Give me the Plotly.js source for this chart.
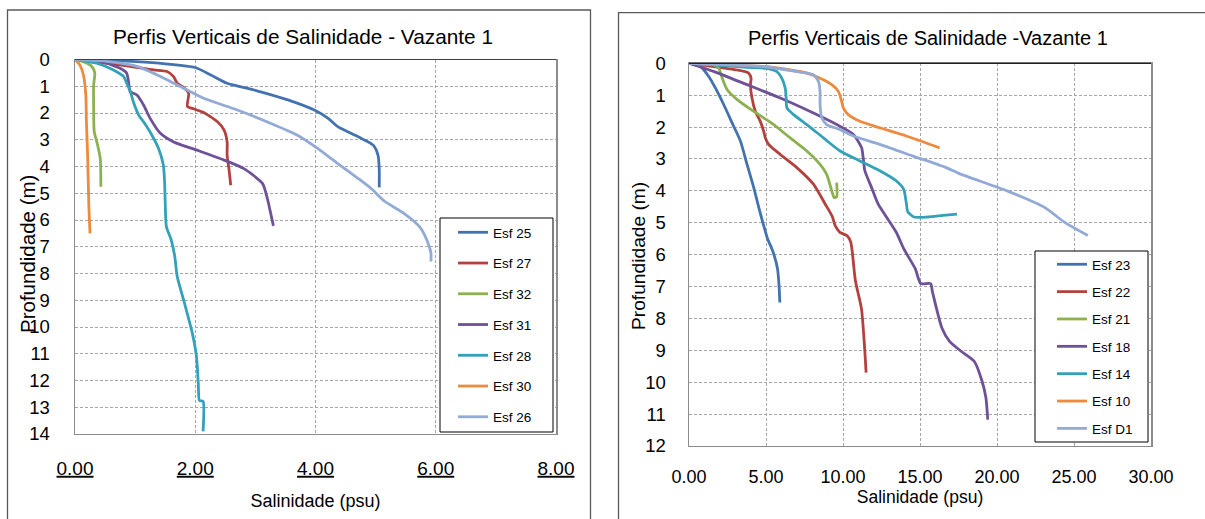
<!DOCTYPE html>
<html>
<head>
<meta charset="utf-8">
<script src="https://cdn.plot.ly/plotly-3.0.1.min.js"></script>
<style>
  html, body { margin: 0; padding: 0; background: #ffffff; }
  #chart { width: 1205px; height: 519px; }
</style>
</head>
<body>
<div id="chart"></div>
<script>
// ---------- Left chart: series (salinity psu, depth m) ----------
const leftNames = ["Esf 25", "Esf 27", "Esf 32", "Esf 31", "Esf 28", "Esf 30", "Esf 26"];

const esf25_s = [0, 0.5, 1.03, 1.5, 2.0, 2.26, 2.53, 2.98, 3.54, 3.98, 4.21, 4.37, 4.71, 4.96, 5.04, 5.06, 5.06];
const esf25_d = [0, 0.03, 0.08, 0.16, 0.3, 0.58, 0.89, 1.14, 1.51, 1.89, 2.2, 2.51, 2.89, 3.2, 3.58, 4.08, 4.78];

const esf27_s = [0, 0.75, 1.31, 1.53, 1.64, 1.70, 1.81, 1.89, 1.87, 1.98, 2.14, 2.37, 2.48, 2.53, 2.53, 2.56, 2.59];
const esf27_d = [0, 0.2, 0.39, 0.45, 0.64, 0.89, 1.05, 1.26, 1.76, 1.85, 1.98, 2.33, 2.64, 3.08, 3.58, 4.08, 4.7];

const esf32_s = [0, 0.14, 0.28, 0.33, 0.31, 0.31, 0.32, 0.37, 0.42, 0.43];
const esf32_d = [0, 0.08, 0.26, 0.51, 0.95, 1.7, 2.7, 3.14, 3.7, 4.76];

const esf31_s = [0, 0.47, 0.75, 0.86, 0.89, 0.92, 1.03, 1.14, 1.25, 1.42, 1.64, 2.03, 2.48, 2.81, 3.12, 3.2, 3.25, 3.3];
const esf31_d = [0, 0.1, 0.33, 0.51, 0.83, 1.2, 1.33, 1.7, 2.2, 2.76, 3.08, 3.39, 3.76, 4.08, 4.64, 5.2, 5.7, 6.22];

const esf28_s = [0, 0.36, 0.64, 0.81, 0.86, 0.92, 0.97, 1.06, 1.14, 1.28, 1.39, 1.47, 1.49, 1.50, 1.52, 1.60, 1.66, 1.70, 1.82, 1.95, 2.02, 2.05, 2.07, 2.13, 2.13];
const esf28_d = [0, 0.14, 0.39, 0.64, 0.89, 1.2, 1.58, 2.08, 2.33, 2.83, 3.33, 3.95, 4.58, 5.3, 6.25, 6.74, 7.37, 8.11, 9.1, 10.22, 11.1, 12.09, 12.75, 12.78, 13.9];

const esf30_s = [0, 0.08, 0.14, 0.18, 0.19, 0.21, 0.23, 0.25];
const esf30_d = [0, 0.2, 0.58, 1.33, 2.33, 3.58, 5.45, 6.5];

const esf26_s = [0, 0.47, 1.03, 1.48, 1.75, 2.14, 2.70, 3.26, 3.70, 4.04, 4.37, 4.71, 4.93, 5.15, 5.47, 5.73, 5.85, 5.92, 5.92];
const esf26_d = [0, 0.05, 0.26, 0.7, 1.01, 1.45, 1.89, 2.39, 2.83, 3.33, 3.89, 4.45, 4.83, 5.3, 5.75, 6.25, 6.74, 7.24, 7.55];

// ---------- Right chart ----------
const rightNames = ["Esf 23", "Esf 22", "Esf 21", "Esf 18", "Esf 14", "Esf 10", "Esf D1"];

const esf23_s = [0, 0.75, 1.29, 1.72, 2.26, 2.80, 3.34, 3.77, 4.2, 4.53, 4.8, 5.1, 5.45, 5.75, 5.85, 5.9];
const esf23_d = [0, 0.1, 0.42, 0.78, 1.3, 1.87, 2.44, 3.17, 3.89, 4.52, 5.0, 5.5, 5.9, 6.45, 7.0, 7.5];

const esf22_s = [0, 1.62, 3.13, 3.88, 4.03, 3.99, 4.09, 4.31, 4.63, 4.85, 4.96, 5.17, 5.93, 7.0, 8.08, 8.84, 9.3, 9.5, 9.8, 10.3, 10.5, 10.6, 10.8, 11.2, 11.4, 11.5];
const esf22_d = [0, 0.1, 0.21, 0.31, 0.47, 0.67, 1.09, 1.51, 1.82, 2.13, 2.34, 2.54, 2.86, 3.27, 3.79, 4.41, 4.8, 5.1, 5.3, 5.42, 5.6, 5.9, 6.8, 7.7, 8.9, 9.7];

const esf21_s = [0, 1.62, 1.94, 2.16, 2.48, 3.13, 4.2, 5.5, 6.57, 7.65, 8.51, 8.94, 9.27, 9.42, 9.59, 9.59];
const esf21_d = [0, 0.05, 0.16, 0.47, 0.83, 1.14, 1.51, 1.92, 2.34, 2.75, 3.17, 3.48, 4.0, 4.21, 4.18, 3.74];

const esf18_s = [0, 1.62, 3.77, 5.93, 8.08, 9.59, 10.67, 11.21, 11.31, 11.42, 11.85, 12.28, 13.45, 13.95, 14.69, 15.05, 15.69, 15.81, 16.43, 16.92, 17.67, 18.53, 19.03, 19.28, 19.4];
const esf18_d = [0, 0.26, 0.67, 1.09, 1.56, 1.92, 2.23, 2.65, 2.96, 3.37, 3.89, 4.41, 5.29, 5.82, 6.44, 6.91, 6.91, 7.17, 8.31, 8.72, 9.03, 9.35, 9.97, 10.49, 11.17];

const esf14_s = [0, 1.62, 3.77, 5.06, 5.71, 6.03, 6.25, 6.31, 6.36, 6.79, 7.65, 8.73, 9.81, 11.1, 12.39, 13.47, 13.94, 14.12, 14.2, 14.6, 15.5, 16.5, 17.4];
const esf14_d = [0, 0.05, 0.13, 0.16, 0.26, 0.47, 0.78, 1.09, 1.4, 1.61, 1.92, 2.34, 2.75, 3.06, 3.37, 3.69, 3.95, 4.41, 4.65, 4.82, 4.82, 4.77, 4.73];

const esf10_s = [0, 1.62, 4.85, 6.57, 7.65, 8.51, 9.27, 9.7, 9.91, 10.02, 10.34, 11.1, 12.39, 14.12, 16.27];
const esf10_d = [0, 0.03, 0.1, 0.21, 0.31, 0.47, 0.67, 0.88, 1.19, 1.4, 1.61, 1.82, 2.02, 2.28, 2.65];

const esfD1_s = [0, 2.69, 4.85, 7.0, 8.08, 8.41, 8.51, 8.51, 8.62, 8.94, 9.81, 10.67, 12.39, 14.55, 16.7, 17.56, 20.65, 23.1, 24.37, 25.9];
const esfD1_d = [0, 0.05, 0.1, 0.26, 0.36, 0.57, 0.88, 1.3, 1.71, 1.92, 2.08, 2.28, 2.54, 2.91, 3.27, 3.46, 4.0, 4.52, 4.98, 5.4];

// ---------- Tick values ----------
const leftXTicks = [0, 2, 4, 6, 8];
const leftYTicks = [0,1,2,3,4,5,6,7,8,9,10,11,12,13,14];
const rightXTicks = [0, 5, 10, 15, 20, 25, 30];
const rightYTicks = [0,1,2,3,4,5,6,7,8,9,10,11,12];

const colors = ["#4372B0", "#B3423F", "#8DB050", "#6E5196", "#34A1BA", "#EE8A3C", "#92AAD5"];

const leftData = [[esf25_s, esf25_d], [esf27_s, esf27_d], [esf32_s, esf32_d], [esf31_s, esf31_d], [esf28_s, esf28_d], [esf30_s, esf30_d], [esf26_s, esf26_d]];
const rightData = [[esf23_s, esf23_d], [esf22_s, esf22_d], [esf21_s, esf21_d], [esf18_s, esf18_d], [esf14_s, esf14_d], [esf10_s, esf10_d], [esfD1_s, esfD1_d]];

const W = 1205, H = 519;
const px = v => v / W;
const py = v => 1 - v / H;

const FONT = "Liberation Sans, Arial, sans-serif";

const traces = [];
leftData.forEach((d, i) => {
  traces.push({
    x: d[0], y: d[1], name: leftNames[i], type: "scatter", mode: "lines",
    xaxis: "x", yaxis: "y", legend: "legend", legendgroup: "L" + i,
    line: { color: colors[i], width: 2.8, shape: "spline", smoothing: 0.6 },
    hoverinfo: "skip"
  });
});
rightData.forEach((d, i) => {
  traces.push({
    x: d[0], y: d[1], name: rightNames[i], type: "scatter", mode: "lines",
    xaxis: "x2", yaxis: "y2", legend: "legend2", legendgroup: "R" + i,
    line: { color: colors[i], width: 2.8, shape: "spline", smoothing: 0.6 },
    hoverinfo: "skip"
  });
});

const gridStyle = { showgrid: true, gridcolor: "#a6a6a6", gridwidth: 1, griddash: "3px,2px", zeroline: false };

const layout = {
  width: W, height: H,
  margin: { l: 0, r: 0, t: 0, b: 0 },
  paper_bgcolor: "#ffffff", plot_bgcolor: "#ffffff",
  font: { family: FONT, color: "#000000" },
  showlegend: true,
  xaxis: Object.assign({}, gridStyle, {
    domain: [px(75), px(556)], range: [0, 8], anchor: "y",
    tickvals: leftXTicks, tickformat: ".2f", ticks: "",
    tickfont: { size: 19, lineposition: "under" }, ticklabelstandoff: 17,
    showline: true, linecolor: "#8c8c8c", linewidth: 1, mirror: true,
    title: { text: "Salinidade (psu)", font: { size: 18 }, standoff: 16 }
  }),
  yaxis: Object.assign({}, gridStyle, {
    domain: [py(434), py(59.5)], range: [14, 0], anchor: "x",
    tickvals: leftYTicks, ticks: "", tickfont: { size: 18.5 }, ticklabelstandoff: 20,
    showline: true, linecolor: "#8c8c8c", linewidth: 1.5, mirror: true
  }),
  xaxis2: Object.assign({}, gridStyle, {
    domain: [px(689), px(1151)], range: [0, 30], anchor: "y2",
    tickvals: rightXTicks, tickformat: ".2f", ticks: "",
    tickfont: { size: 18 }, ticklabelstandoff: 14,
    showline: true, linecolor: "#8c8c8c", linewidth: 1, mirror: true,
    title: { text: "Salinidade (psu)", font: { size: 17.5 }, standoff: 4 }
  }),
  yaxis2: Object.assign({}, gridStyle, {
    domain: [py(446), py(63.3)], range: [12, 0], anchor: "x2",
    tickvals: rightYTicks, ticks: "", tickfont: { size: 18.5 }, ticklabelstandoff: 18,
    showline: true, linecolor: "#8c8c8c", linewidth: 1.5, mirror: true
  }),
  legend: {
    x: px(453), y: py(217), xanchor: "left", yanchor: "top",
    bgcolor: "rgba(0,0,0,0)", borderwidth: 0,
    font: { size: 13.5, color: "#000000" }, traceorder: "grouped", tracegroupgap: 10.2
  },
  legend2: {
    x: px(1052), y: py(249), xanchor: "left", yanchor: "top",
    bgcolor: "rgba(0,0,0,0)", borderwidth: 0,
    font: { size: 13.5, color: "#000000" }, traceorder: "grouped", tracegroupgap: 6.8
  },
  shapes: [
    // chart area borders
    { type: "rect", xref: "paper", yref: "paper", x0: px(7.5), x1: px(590.5), y0: py(530), y1: py(10), line: { color: "#595959", width: 1.3 }, layer: "below" },
    { type: "rect", xref: "paper", yref: "paper", x0: px(618.5), x1: px(1240), y0: py(530), y1: py(12.7), line: { color: "#595959", width: 1.3 }, layer: "below" },
    // dark horizontal axis line at depth 0 (top of plot)
    { type: "line", xref: "paper", yref: "paper", x0: px(75), x1: px(556), y0: py(59.5), y1: py(59.5), line: { color: "#404040", width: 1.2 }, layer: "above" },
    { type: "line", xref: "paper", yref: "paper", x0: px(689), x1: px(1151), y0: py(63.3), y1: py(63.3), line: { color: "#202020", width: 1.2 }, layer: "above" },
    // legend boxes
    { type: "rect", xref: "paper", yref: "paper", x0: px(440), x1: px(553), y0: py(432), y1: py(218), fillcolor: "#ffffff", line: { color: "#000000", width: 1 }, layer: "above" },
    { type: "rect", xref: "paper", yref: "paper", x0: px(1035), x1: px(1148), y0: py(442), y1: py(251), fillcolor: "#ffffff", line: { color: "#000000", width: 1 }, layer: "above" }
  ],
  annotations: [
    { text: "Perfis Verticais de Salinidade - Vazante 1", xref: "paper", yref: "paper", x: px(303), y: py(37), xanchor: "center", yanchor: "middle", showarrow: false, font: { size: 20.8, color: "#000000" } },
    { text: "Perfis Verticais de Salinidade -Vazante 1", xref: "paper", yref: "paper", x: px(928), y: py(38), xanchor: "center", yanchor: "middle", showarrow: false, font: { size: 20, color: "#000000" } },
    { text: "Profundidade (m)", xref: "paper", yref: "paper", x: px(27), y: py(254), xanchor: "center", yanchor: "middle", textangle: -90, showarrow: false, font: { size: 20.5, color: "#000000" } },
    { text: "Profundidade (m)", xref: "paper", yref: "paper", x: px(638), y: py(256), xanchor: "center", yanchor: "middle", textangle: -90, showarrow: false, font: { size: 19.2, color: "#000000" } }
  ]
};

Plotly.newPlot("chart", traces, layout, { displayModeBar: false, staticPlot: true });
</script>
</body>
</html>
